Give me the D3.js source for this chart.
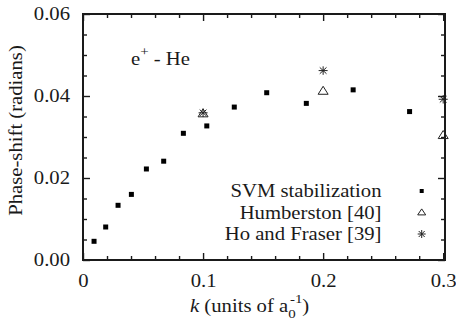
<!DOCTYPE html>
<html>
<head>
<meta charset="utf-8">
<script src="https://cdn.jsdelivr.net/npm/d3@7"></script>
<style>
  body { margin: 0; background: #fff; }
</style>
</head>
<body>
<div id="chart"></div>
<script>
// phase shifts for e+ - He
var svmK = [0.0092, 0.0189, 0.0292, 0.0403, 0.0528, 0.0672, 0.0836, 0.1031, 0.126, 0.153, 0.186, 0.225, 0.272];
var svmDelta = [0.00456, 0.00805, 0.01334, 0.0160, 0.0222, 0.0241, 0.0309, 0.0327, 0.0373, 0.0408, 0.0382, 0.0415, 0.0362];
var humbK = [0.1, 0.2, 0.3];
var humbDelta = [0.0357, 0.0412, 0.0304];
var hoK = [0.1, 0.2, 0.3];
var hoDelta = [0.0359, 0.0462, 0.0392];
var xTicks = [0, 0.1, 0.2, 0.3];
var yTicks = [0, 0.02, 0.04, 0.06];
var legendNames = ['SVM stabilization', 'Humberston [40]', 'Ho and Fraser [39]'];

var width = 456, height = 322;
var margin = { top: 14, right: 11, bottom: 62, left: 83 };
var serif = "'Liberation Serif', 'Times New Roman', Times, 'DejaVu Serif', serif";
var ink = "#1a1a1a";
var fs = 18, fsSmall = 13, stretch = 1.15;   // the original font is a little wider than Times

var svg = d3.select("#chart").append("svg")
    .attr("width", width)
    .attr("height", height)
    .attr("font-family", serif);

var x = d3.scaleLinear().domain([0, 0.3015]).range([margin.left, width - margin.right]);
var y = d3.scaleLinear().domain([0, 0.06]).range([height - margin.bottom, margin.top]);

var xMinor = d3.range(0, 0.3001, 0.02).filter(function (v) { return Math.abs(v * 10 - Math.round(v * 10)) > 1e-6; });
var yMinor = d3.range(0, 0.0601, 0.005).filter(function (v) { return Math.abs(v * 50 - Math.round(v * 50)) > 1e-6; });

// text placed at (tx,ty), stretched sideways
function label(tx, ty, rot) {
    return svg.append("g")
        .attr("transform", "translate(" + tx + "," + ty + ")" + (rot ? " rotate(" + rot + ")" : "") + " scale(" + stretch + ",1)")
        .append("text")
        .attr("font-size", fs)
        .attr("fill", ink);
}

function styleAxis(g) {
    g.attr("font-family", serif);
    g.select(".domain").remove();
    g.selectAll("line").attr("stroke", ink).attr("stroke-width", 1.4);
    g.selectAll("text").attr("font-size", fs).attr("fill", ink);
}

// bottom axis (ticks point inward)
var bottom = svg.append("g")
    .attr("transform", "translate(0," + y(0) + ")")
    .call(d3.axisBottom(x).tickValues(xTicks).tickSize(-7).tickPadding(14)
        .tickFormat(function (d) { return d === 0 ? "0" : d3.format(".1f")(d); }))
    .call(styleAxis);
bottom.selectAll("text").attr("transform", "scale(" + stretch + ",1)");
svg.append("g")
    .attr("transform", "translate(0," + y(0) + ")")
    .call(d3.axisBottom(x).tickValues(xMinor).tickSize(-4).tickFormat(""))
    .call(styleAxis);
// top axis
svg.append("g")
    .attr("transform", "translate(0," + y(0.06) + ")")
    .call(d3.axisTop(x).tickValues(xTicks).tickSize(-7).tickFormat(""))
    .call(styleAxis);
svg.append("g")
    .attr("transform", "translate(0," + y(0.06) + ")")
    .call(d3.axisTop(x).tickValues(xMinor).tickSize(-4).tickFormat(""))
    .call(styleAxis);
// left axis
var left = svg.append("g")
    .attr("transform", "translate(" + x(0) + ",0)")
    .call(d3.axisLeft(y).tickValues(yTicks).tickSize(-7).tickPadding(11.3).tickFormat(d3.format(".2f")))
    .call(styleAxis);
left.selectAll("text").attr("transform", "scale(" + stretch + ",1)");
svg.append("g")
    .attr("transform", "translate(" + x(0) + ",0)")
    .call(d3.axisLeft(y).tickValues(yMinor).tickSize(-4).tickFormat(""))
    .call(styleAxis);
// right axis
svg.append("g")
    .attr("transform", "translate(" + x.range()[1] + ",0)")
    .call(d3.axisRight(y).tickValues(yTicks).tickSize(-7).tickFormat(""))
    .call(styleAxis);
svg.append("g")
    .attr("transform", "translate(" + x.range()[1] + ",0)")
    .call(d3.axisRight(y).tickValues(yMinor).tickSize(-4).tickFormat(""))
    .call(styleAxis);

// frame
svg.append("rect")
    .attr("x", x.range()[0])
    .attr("y", y.range()[1])
    .attr("width", x.range()[1] - x.range()[0])
    .attr("height", y.range()[0] - y.range()[1])
    .attr("fill", "none")
    .attr("stroke", ink)
    .attr("stroke-width", 2);

// axis titles
label(22, 130.5, -90)
    .attr("text-anchor", "middle")
    .text("Phase-shift (radians)");

var xt = label(190, 311.5);
xt.append("tspan").attr("font-style", "italic").text("k");
xt.append("tspan").text(" (units of a");
xt.append("tspan").attr("dy", 6).attr("font-size", fsSmall).text("0");
xt.append("tspan").attr("dy", -15).attr("dx", -5).attr("font-size", fsSmall).text("-1");
xt.append("tspan").attr("dy", 9).text(")");

// system label
var lab = label(131, 64.5);
lab.append("tspan").text("e");
lab.append("tspan").attr("dy", -9).attr("font-size", fsSmall).text("+");
lab.append("tspan").attr("dy", 9).text(" - He");

// markers
function square(g, s) {
    g.append("rect").attr("x", -s / 2).attr("y", -s / 2).attr("width", s).attr("height", s).attr("fill", "#000");
}
function triangle(g, s, h) {
    g.append("path")
        .attr("d", "M0," + (-h * 0.6) + "L" + (s / 2) + "," + (h * 0.4) + "L" + (-s / 2) + "," + (h * 0.4) + "Z")
        .attr("fill", "none").attr("stroke", "#222").attr("stroke-width", 1);
}
function star(g, s, h) {
    var r = s / 2, q = h / 2;
    g.append("path")
        .attr("d", "M" + (-r) + ",0H" + r + "M0," + (-q) + "V" + q +
            "M" + (-r * 0.75) + "," + (-q * 0.75) + "L" + (r * 0.75) + "," + (q * 0.75) +
            "M" + (-r * 0.75) + "," + (q * 0.75) + "L" + (r * 0.75) + "," + (-q * 0.75))
        .attr("fill", "none").attr("stroke", "#222").attr("stroke-width", 1);
}

svg.selectAll(".svm").data(svmK).enter().append("g")
    .attr("class", "svm")
    .attr("transform", function (d, i) { return "translate(" + x(d) + "," + y(svmDelta[i]) + ")"; })
    .each(function () { square(d3.select(this), 5); });

svg.selectAll(".humb").data(humbK).enter().append("g")
    .attr("class", "humb")
    .attr("transform", function (d, i) { return "translate(" + x(d) + "," + y(humbDelta[i]) + ")"; })
    .each(function () { triangle(d3.select(this), 10, 8); });

svg.selectAll(".ho").data(hoK).enter().append("g")
    .attr("class", "ho")
    .attr("transform", function (d, i) { return "translate(" + x(d) + "," + y(hoDelta[i]) + ")"; })
    .each(function () { star(d3.select(this), 9, 8.5); });

// legend
var legMarks = [square, triangle, star];
var legSizes = [[4, 4], [8, 6], [8, 8]];
legendNames.forEach(function (name, i) {
    var base = 197 + i * 21.5;
    label(381.5, base)
        .attr("text-anchor", "end")
        .text(name);
    var g = svg.append("g").attr("transform", "translate(421.7," + (base - 6) + ")");
    legMarks[i](g, legSizes[i][0], legSizes[i][1]);
});
</script>
</body>
</html>
